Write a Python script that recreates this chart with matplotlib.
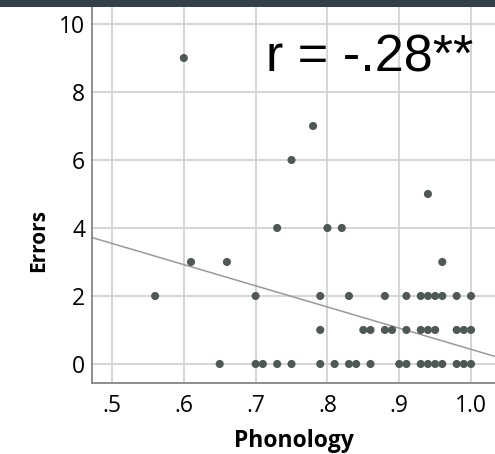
import matplotlib
matplotlib.use("Agg")
import matplotlib.pyplot as plt
from matplotlib.patches import Rectangle

# ---- data (phonology score vs. error count) ----
phonology = [
    0.56, 0.60, 0.61, 0.66, 0.73, 0.75, 0.78, 0.80, 0.82, 0.96, 0.94,
    # errors = 2
    0.70, 0.79, 0.83, 0.88, 0.91, 0.93, 0.94, 0.95, 0.96, 0.98, 1.00,
    # errors = 1
    0.79, 0.85, 0.86, 0.88, 0.89, 0.91, 0.93, 0.94, 0.95, 0.98, 0.99, 1.00,
    # errors = 0
    0.65, 0.70, 0.71, 0.73, 0.75, 0.79, 0.81, 0.83, 0.84, 0.86, 0.90,
    0.91, 0.93, 0.94, 0.95, 0.96, 0.98, 0.99, 1.00,
]
errors = [
    2, 9, 3, 3, 4, 6, 7, 4, 4, 3, 5,
    2, 2, 2, 2, 2, 2, 2, 2, 2, 2, 2,
    1, 1, 1, 1, 1, 1, 1, 1, 1, 1, 1, 1,
    0, 0, 0, 0, 0, 0, 0, 0, 0, 0, 0,
    0, 0, 0, 0, 0, 0, 0, 0,
]

# fit line
fit_intercept = 6.66
fit_slope = -6.23

x_ticks = [0.5, 0.6, 0.7, 0.8, 0.9, 1.0]
x_tick_labels = [".5", ".6", ".7", ".8", ".9", "1.0"]
y_ticks = [0, 2, 4, 6, 8, 10]

DOT = "#4e5854"
GRID = "#d2d2d2"
SPINE = "#7a7a7a"

fig = plt.figure(figsize=(4.95, 4.54), dpi=100)
ax = fig.add_axes([92 / 495, 71 / 454, 1 - 92 / 495, 376 / 454])

xmin, xmax = 0.4721, 1.0334
ax.set_xlim(xmin, xmax)
ax.set_ylim(-0.56, 10.5)

ax.grid(True, color=GRID, lw=1.3, zorder=0)
ax.set_axisbelow(True)

ax.plot([xmin, xmax], [fit_intercept + fit_slope * xmin, fit_intercept + fit_slope * xmax],
        color="#9a9a9a", lw=1.1, zorder=2)
ax.scatter(phonology, errors, s=34, color=DOT, edgecolors="none", zorder=3)

ax.set_xticks(x_ticks)
ax.set_xticklabels(x_tick_labels)
ax.set_yticks(y_ticks)
ax.tick_params(length=0, labelsize=16.5, colors="#000000")
ax.tick_params(axis="y", pad=5)
ax.tick_params(axis="x", pad=8)
for lab in ax.get_xticklabels() + ax.get_yticklabels():
    lab.set_family("Open Sans")

for side in ["top", "right"]:
    ax.spines[side].set_visible(False)
for side in ["left", "bottom"]:
    ax.spines[side].set_color(SPINE)
    ax.spines[side].set_linewidth(1.2)

ax.set_xlabel("Phonology", fontsize=16.5, fontweight="bold", family="Open Sans")
ax.set_ylabel("Errors", fontsize=15, fontweight="bold", family="Open Sans")
ax.xaxis.set_label_coords((294 - 92) / 403, -(441 - 383) / 376)
ax.yaxis.set_label_coords((39 - 92) / 403, (383 - 240) / 376)
ax.xaxis.label.set_va("center")
ax.yaxis.label.set_va("center")

ax.text(266 / 495, 1 - 71.7 / 454, "r = -.28**", transform=fig.transFigure,
        fontsize=37.5, family="Liberation Sans", color="#000000",
        ha="left", va="baseline")

# dark header strip at the very top
fig.patches.append(Rectangle((0, 1 - 7 / 454), 1, 7 / 454, transform=fig.transFigure,
                             facecolor="#343f48", edgecolor="none", zorder=10))

fig.savefig("out.png", dpi=100)
